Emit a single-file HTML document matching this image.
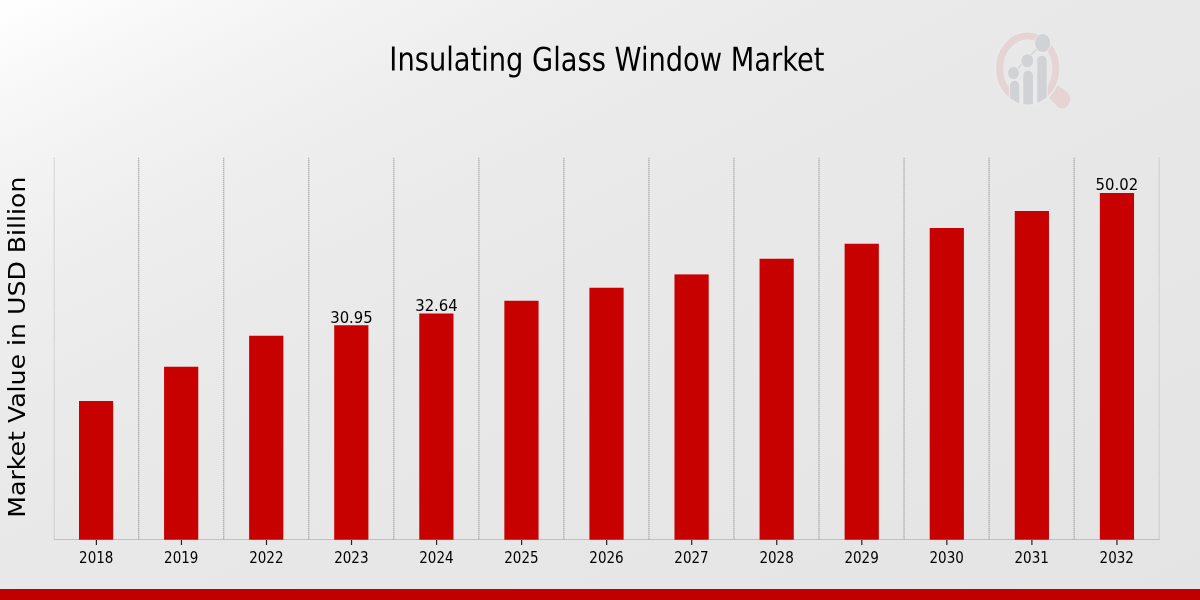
<!DOCTYPE html>
<html lang="en">
<head>
<meta charset="utf-8">
<title>Insulating Glass Window Market</title>
<style>
html,body{margin:0;padding:0;width:1200px;height:600px;overflow:hidden;background:#e9e9e9;}
svg{display:block;position:absolute;left:0;top:0;}
.t{font-family:"DejaVu Sans Condensed","DejaVu Sans","Liberation Sans",sans-serif;fill:#000;}
.y{font-family:"DejaVu Sans","Liberation Sans",sans-serif;fill:#000;}
</style>
</head>
<body>
<svg width="1200" height="600" viewBox="0 0 1200 600">
<defs>
<linearGradient id="bg" x1="0" y1="0" x2="1" y2="1">
<stop offset="0" stop-color="#ffffff"/>
<stop offset="0.067" stop-color="#f9f9f9"/>
<stop offset="0.13" stop-color="#f4f4f4"/>
<stop offset="0.24" stop-color="#eeeeee"/>
<stop offset="0.36" stop-color="#eaeaea"/>
<stop offset="0.5" stop-color="#e8e8e8"/>
<stop offset="0.75" stop-color="#e6e6e6"/>
<stop offset="1" stop-color="#e4e4e4"/>
</linearGradient>
</defs>
<rect x="0" y="0" width="1200" height="600" fill="url(#bg)"/>

<g stroke="#8c8c8c" stroke-width="1.1" stroke-dasharray="1.4,0.6" fill="none">
<line x1="54.20" y1="157.8" x2="54.20" y2="539.5" opacity="0.33"/>
<line x1="138.69" y1="157.8" x2="138.69" y2="539.5" opacity="0.7"/>
<line x1="223.73" y1="157.8" x2="223.73" y2="539.5" opacity="0.7"/>
<line x1="308.77" y1="157.8" x2="308.77" y2="539.5" opacity="0.7"/>
<line x1="393.81" y1="157.8" x2="393.81" y2="539.5" opacity="0.7"/>
<line x1="478.85" y1="157.8" x2="478.85" y2="539.5" opacity="0.7"/>
<line x1="563.89" y1="157.8" x2="563.89" y2="539.5" opacity="0.7"/>
<line x1="648.93" y1="157.8" x2="648.93" y2="539.5" opacity="0.7"/>
<line x1="733.97" y1="157.8" x2="733.97" y2="539.5" opacity="0.7"/>
<line x1="819.01" y1="157.8" x2="819.01" y2="539.5" opacity="0.7"/>
<line x1="904.05" y1="157.8" x2="904.05" y2="539.5" opacity="0.7"/>
<line x1="989.09" y1="157.8" x2="989.09" y2="539.5" opacity="0.7"/>
<line x1="1074.13" y1="157.8" x2="1074.13" y2="539.5" opacity="0.7"/>
<line x1="1159.17" y1="157.8" x2="1159.17" y2="539.5" opacity="0.33"/>
</g>
<g fill="#c70000">
<rect x="79.00" y="401" width="34.2" height="139.00"/>
<rect x="164.07" y="366.75" width="34.2" height="173.25"/>
<rect x="249.14" y="335.75" width="34.2" height="204.25"/>
<rect x="334.21" y="325.25" width="34.2" height="214.75"/>
<rect x="419.28" y="313.5" width="34.2" height="226.50"/>
<rect x="504.35" y="300.75" width="34.2" height="239.25"/>
<rect x="589.42" y="287.75" width="34.2" height="252.25"/>
<rect x="674.49" y="274.4" width="34.2" height="265.60"/>
<rect x="759.56" y="258.75" width="34.2" height="281.25"/>
<rect x="844.63" y="243.75" width="34.2" height="296.25"/>
<rect x="929.70" y="228" width="34.2" height="312.00"/>
<rect x="1014.77" y="211" width="34.2" height="329.00"/>
<rect x="1099.84" y="193" width="34.2" height="347.00"/>
</g>
<line x1="54" y1="539.5" x2="1159.4" y2="539.5" stroke="#909090" stroke-width="0.85" stroke-dasharray="1.7,0.3" opacity="0.62"/>
<g stroke="#222" stroke-width="1.2">
<line x1="96.40" y1="540" x2="96.40" y2="545"/>
<line x1="181.44" y1="540" x2="181.44" y2="545"/>
<line x1="266.49" y1="540" x2="266.49" y2="545"/>
<line x1="351.53" y1="540" x2="351.53" y2="545"/>
<line x1="436.58" y1="540" x2="436.58" y2="545"/>
<line x1="521.62" y1="540" x2="521.62" y2="545"/>
<line x1="606.67" y1="540" x2="606.67" y2="545"/>
<line x1="691.72" y1="540" x2="691.72" y2="545"/>
<line x1="776.76" y1="540" x2="776.76" y2="545"/>
<line x1="861.80" y1="540" x2="861.80" y2="545"/>
<line x1="946.85" y1="540" x2="946.85" y2="545"/>
<line x1="1031.89" y1="540" x2="1031.89" y2="545"/>
<line x1="1116.94" y1="540" x2="1116.94" y2="545"/>
</g>
<g class="t" font-size="16" text-anchor="middle">
<text transform="translate(96.20,563) scale(0.9375,1)">2018</text>
<text transform="translate(181.25,563) scale(0.9375,1)">2019</text>
<text transform="translate(266.29,563) scale(0.9375,1)">2022</text>
<text transform="translate(351.33,563) scale(0.9375,1)">2023</text>
<text transform="translate(436.38,563) scale(0.9375,1)">2024</text>
<text transform="translate(521.43,563) scale(0.9375,1)">2025</text>
<text transform="translate(606.47,563) scale(0.9375,1)">2026</text>
<text transform="translate(691.52,563) scale(0.9375,1)">2027</text>
<text transform="translate(776.56,563) scale(0.9375,1)">2028</text>
<text transform="translate(861.61,563) scale(0.9375,1)">2029</text>
<text transform="translate(946.65,563) scale(0.9375,1)">2030</text>
<text transform="translate(1031.69,563) scale(0.9375,1)">2031</text>
<text transform="translate(1116.74,563) scale(0.9375,1)">2032</text>
</g>
<g class="t" font-size="16.5" text-anchor="middle">
<text x="351.44" y="322.65">30.95</text>
<text x="436.48" y="310.90">32.64</text>
<text x="1116.84" y="190.40">50.02</text>
</g>
<text class="t" font-size="32.8" text-anchor="middle" transform="translate(606.9,70.7) rotate(0.03) scale(0.9249,1)">Insulating Glass Window Market</text>
<text class="y" font-size="25.2" text-anchor="middle" transform="translate(25,347.1) scale(0.9375,1) rotate(-90)">Market Value in USD Billion</text>
<g id="logo">
<clipPath id="lc"><ellipse cx="1027.7" cy="68.5" rx="31.7" ry="36"/></clipPath>
<path d="M1049.3 97.9 L1057.4 85.2 L1066.3 91.3 C1070.6 94.6 1071.2 100.4 1068.6 104.4 C1066 108.6 1061.6 109.8 1058.2 107.2 Z" fill="#e6d4d5"/>
<ellipse cx="1027.7" cy="68.5" rx="32.4" ry="36.7" fill="none" stroke="#ebebeb" stroke-width="1.4"/>
<ellipse cx="1027.7" cy="68.5" rx="28.2" ry="32.5" fill="none" stroke="#e6d4d5" stroke-width="7"/>
<clipPath id="lc2"><ellipse cx="1027.7" cy="68.5" rx="33.2" ry="37.5"/></clipPath>
<rect x="1009" y="80" width="38.7" height="30" fill="#eaeaea" clip-path="url(#lc2)"/>
<g clip-path="url(#lc)">
<g fill="#d1d2d5">
<rect x="1010" y="80.8" width="9.3" height="40" rx="4.65"/>
<rect x="1023.3" y="70.7" width="9.6" height="40" rx="4.8"/>
<rect x="1037.3" y="55.7" width="9.4" height="60" rx="4.7"/>
</g>
</g>
<line x1="1013.5" y1="73" x2="1042.7" y2="43" stroke="#d1d2d5" stroke-width="1.2"/>
<g fill="#d1d2d5" stroke="#ececec" stroke-width="1">
<ellipse cx="1013.5" cy="73" rx="6" ry="6.6"/>
<ellipse cx="1027.3" cy="60.8" rx="6.4" ry="7"/>
<ellipse cx="1042.7" cy="43.1" rx="8.1" ry="9.5"/>
</g>
</g>

<rect x="0" y="589" width="1200" height="11" fill="#c00000"/>
</svg>
</body>
</html>
